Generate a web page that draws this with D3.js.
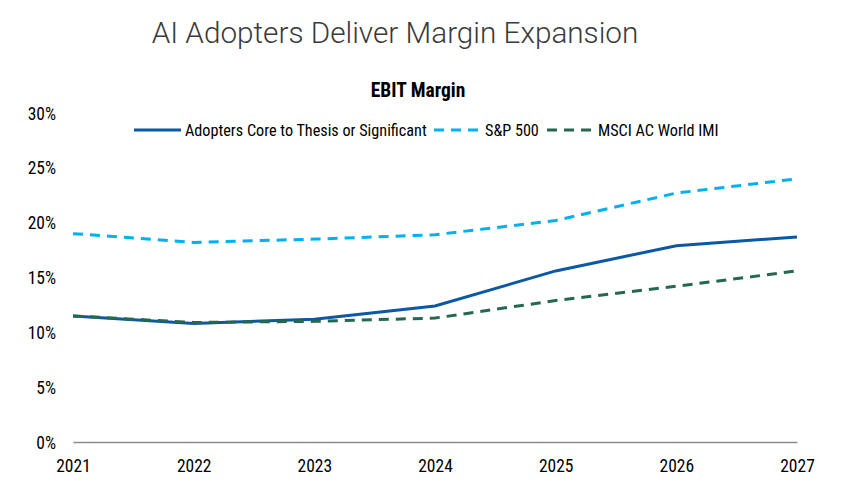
<!DOCTYPE html>
<html><head><meta charset="utf-8">
<script src="https://cdn.jsdelivr.net/npm/d3@7"></script>
<style>
body{margin:0;background:#fff;}
svg{display:block;}
.cond{font-family:"Roboto Condensed","Liberation Sans Narrow","DejaVu Sans Condensed",Roboto,sans-serif;}
</style></head>
<body><svg id="c" width="846" height="494"></svg>
<script>
const years = ["2021","2022","2023","2024","2025","2026","2027"];
const adopters = [11.5, 10.8, 11.2, 12.4, 15.6, 17.9, 18.7];
const sp500 = [19.0, 18.2, 18.5, 18.9, 20.2, 22.7, 24.0];
const msci = [11.5, 10.9, 11.0, 11.3, 12.9, 14.2, 15.6];
const yTicks = [0, 5, 10, 15, 20, 25, 30];
const seriesNames = ["Adopters Core to Thesis or Significant", "S&P 500", "MSCI AC World IMI"];

const svg = d3.select("#c");
const x = d3.scalePoint().domain(years).range([73, 797]);
const y = d3.scaleLinear().domain([0, 30]).range([442, 113]);

svg.append("text").attr("x", 395).attr("y", 43).attr("text-anchor", "middle")
  .attr("font-family", "Roboto").attr("font-weight", 300).attr("font-size", 29.7).attr("fill", "#3a3a3a")
  .text("AI Adopters Deliver Margin Expansion");
svg.append("text").attr("class","cond").attr("x", 418).attr("y", 97).attr("text-anchor", "middle")
  .attr("font-weight", "bold").attr("font-size", 19.5).attr("fill", "#000").text("EBIT Margin");

// y axis labels
const yAxis = d3.axisLeft(y).tickValues(yTicks).tickFormat(d => d + "%").tickSize(0).tickPadding(0);
const gy = svg.append("g").attr("transform", "translate(56,0)").call(yAxis);
gy.select(".domain").remove();
gy.selectAll("text").attr("class","cond").attr("font-size", 17.5).attr("fill", "#000").attr("dy","0.35em");

// x axis
const xAxis = d3.axisBottom(x).tickSize(0).tickPadding(17.5);
const gx = svg.append("g").attr("transform", "translate(0,442)").call(xAxis);
gx.select(".domain").attr("stroke", "#8c8c8c").attr("stroke-width", 1.3);
gx.selectAll("text").attr("class","cond").attr("font-size", 17.5).attr("fill", "#000");

const line = d3.line().x((d, i) => x(years[i])).y(d => y(d));
const styles = [
  {data: adopters, color: "#0b59a3", dash: null},
  {data: sp500, color: "#00b0f0", dash: "10,7"},
  {data: msci, color: "#23694f", dash: "10,7"}
];
[styles[1], styles[0], styles[2]].forEach(s => {
  svg.append("path").datum(s.data).attr("d", line).attr("fill", "none")
    .attr("stroke", s.color).attr("stroke-width", 3).attr("stroke-dasharray", s.dash);
});

// legend
const legX = [134, 434, 547];
styles.forEach((s, i) => {
  const g = svg.append("g").attr("transform", `translate(${legX[i]},130)`);
  g.append("line").attr("x1", 0).attr("x2", 47).attr("y1", 0).attr("y2", 0)
    .attr("stroke", s.color).attr("stroke-width", 3).attr("stroke-dasharray", s.dash);
  g.append("text").attr("class","cond").attr("x", 51).attr("y", 0).attr("dy", "0.35em")
    .attr("font-size", 16.2).attr("fill", "#000").text(seriesNames[i]);
});
</script></body></html>
